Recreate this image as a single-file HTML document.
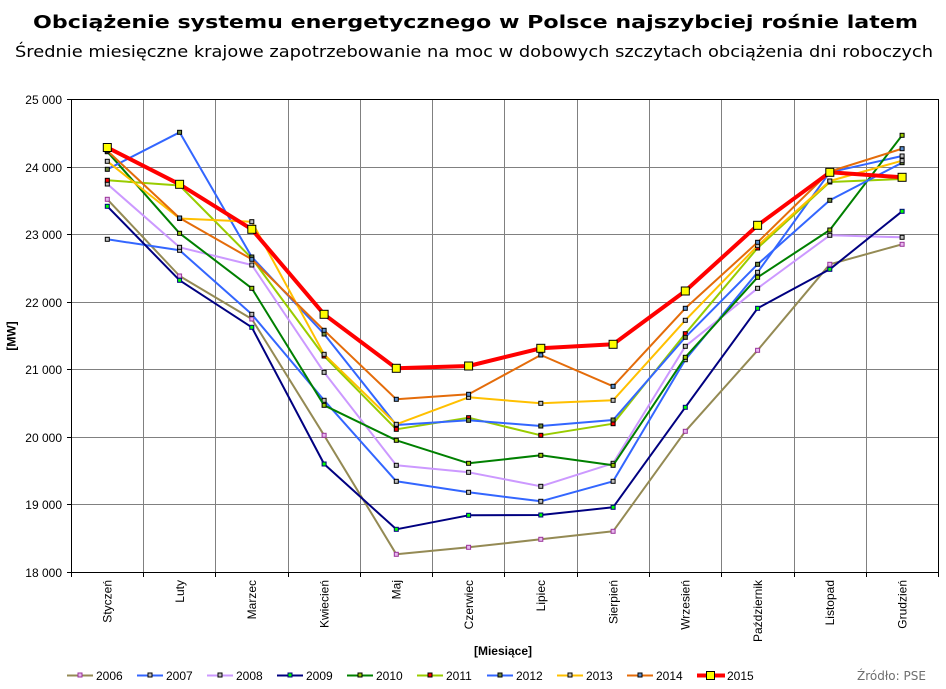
<!DOCTYPE html>
<html>
<head>
<meta charset="utf-8">
<style>
html,body{margin:0;padding:0;background:#fff;}
svg{display:block;}
</style>
</head>
<body>
<svg width="946" height="689" viewBox="0 0 946 689" xmlns="http://www.w3.org/2000/svg">
<defs>
<marker id="m06" markerWidth="7" markerHeight="7" refX="3.5" refY="3.5" markerUnits="userSpaceOnUse"><rect x="1.5" y="1.5" width="4" height="4" fill="#E8B8F0" stroke="#993399" stroke-width="1"/></marker>
<marker id="mgr" markerWidth="7" markerHeight="7" refX="3.5" refY="3.5" markerUnits="userSpaceOnUse"><rect x="1.5" y="1.5" width="4" height="4" fill="#C0C0C0" stroke="#000" stroke-width="1"/></marker>
<marker id="m09" markerWidth="7" markerHeight="7" refX="3.5" refY="3.5" markerUnits="userSpaceOnUse"><rect x="1.5" y="1.5" width="4" height="4" fill="#00FF00" stroke="#000080" stroke-width="1"/></marker>
<marker id="m10" markerWidth="7" markerHeight="7" refX="3.5" refY="3.5" markerUnits="userSpaceOnUse"><rect x="1.5" y="1.5" width="4" height="4" fill="#99CC00" stroke="#000" stroke-width="1"/></marker>
<marker id="m11" markerWidth="7" markerHeight="7" refX="3.5" refY="3.5" markerUnits="userSpaceOnUse"><rect x="1.5" y="1.5" width="4" height="4" fill="#FF0000" stroke="#000" stroke-width="1"/></marker>
<marker id="m12" markerWidth="7" markerHeight="7" refX="3.5" refY="3.5" markerUnits="userSpaceOnUse"><rect x="1.5" y="1.5" width="4" height="4" fill="#6E8B3D" stroke="#000" stroke-width="1"/></marker>
<marker id="m14" markerWidth="7" markerHeight="7" refX="3.5" refY="3.5" markerUnits="userSpaceOnUse"><rect x="1.5" y="1.5" width="4" height="4" fill="#5B8FD0" stroke="#000" stroke-width="1"/></marker>
<marker id="m15" markerWidth="11" markerHeight="11" refX="5.5" refY="5.5" markerUnits="userSpaceOnUse"><rect x="1.5" y="1.5" width="8" height="8" fill="#FFFF00" stroke="#000" stroke-width="1"/></marker>
</defs>

<!-- Titles -->
<text x="33" y="28" font-family="DejaVu Sans, sans-serif" font-weight="bold" font-size="18" textLength="885" lengthAdjust="spacingAndGlyphs" fill="#000">Obciążenie systemu energetycznego w Polsce najszybciej rośnie latem</text>
<text x="15" y="57" font-family="DejaVu Sans, sans-serif" font-size="16" textLength="918" lengthAdjust="spacingAndGlyphs" fill="#000">Średnie miesięczne krajowe zapotrzebowanie na moc w dobowych szczytach obciążenia dni roboczych</text>

<!-- Grid -->
<g stroke="#808080" stroke-width="1" fill="none">
<line x1="71.5" y1="167.5" x2="938.5" y2="167.5"/>
<line x1="71.5" y1="234.5" x2="938.5" y2="234.5"/>
<line x1="71.5" y1="302.5" x2="938.5" y2="302.5"/>
<line x1="71.5" y1="369.5" x2="938.5" y2="369.5"/>
<line x1="71.5" y1="437.5" x2="938.5" y2="437.5"/>
<line x1="71.5" y1="504.5" x2="938.5" y2="504.5"/>
<line x1="143.5" y1="99.5" x2="143.5" y2="572.5"/>
<line x1="215.5" y1="99.5" x2="215.5" y2="572.5"/>
<line x1="288.5" y1="99.5" x2="288.5" y2="572.5"/>
<line x1="360.5" y1="99.5" x2="360.5" y2="572.5"/>
<line x1="432.5" y1="99.5" x2="432.5" y2="572.5"/>
<line x1="504.5" y1="99.5" x2="504.5" y2="572.5"/>
<line x1="577.5" y1="99.5" x2="577.5" y2="572.5"/>
<line x1="649.5" y1="99.5" x2="649.5" y2="572.5"/>
<line x1="721.5" y1="99.5" x2="721.5" y2="572.5"/>
<line x1="794.5" y1="99.5" x2="794.5" y2="572.5"/>
<line x1="866.5" y1="99.5" x2="866.5" y2="572.5"/>
</g>
<rect x="71.5" y="99.5" width="867" height="473" fill="none" stroke="#000" stroke-width="1"/>

<!-- Ticks -->
<g stroke="#000" stroke-width="1">
<line x1="67" y1="99.5" x2="71.5" y2="99.5"/>
<line x1="67" y1="167.5" x2="71.5" y2="167.5"/>
<line x1="67" y1="234.5" x2="71.5" y2="234.5"/>
<line x1="67" y1="302.5" x2="71.5" y2="302.5"/>
<line x1="67" y1="369.5" x2="71.5" y2="369.5"/>
<line x1="67" y1="437.5" x2="71.5" y2="437.5"/>
<line x1="67" y1="504.5" x2="71.5" y2="504.5"/>
<line x1="67" y1="572.5" x2="71.5" y2="572.5"/>
<line x1="71.5" y1="572.5" x2="71.5" y2="577"/>
<line x1="143.5" y1="572.5" x2="143.5" y2="577"/>
<line x1="215.5" y1="572.5" x2="215.5" y2="577"/>
<line x1="288.5" y1="572.5" x2="288.5" y2="577"/>
<line x1="360.5" y1="572.5" x2="360.5" y2="577"/>
<line x1="432.5" y1="572.5" x2="432.5" y2="577"/>
<line x1="504.5" y1="572.5" x2="504.5" y2="577"/>
<line x1="577.5" y1="572.5" x2="577.5" y2="577"/>
<line x1="649.5" y1="572.5" x2="649.5" y2="577"/>
<line x1="721.5" y1="572.5" x2="721.5" y2="577"/>
<line x1="794.5" y1="572.5" x2="794.5" y2="577"/>
<line x1="866.5" y1="572.5" x2="866.5" y2="577"/>
<line x1="938.5" y1="572.5" x2="938.5" y2="577"/>
</g>

<!-- Y labels -->
<g font-family="Liberation Sans, Arial, sans-serif" font-size="12" fill="#000" text-anchor="end">
<text x="62" y="104">25 000</text>
<text x="62" y="172">24 000</text>
<text x="62" y="239">23 000</text>
<text x="62" y="307">22 000</text>
<text x="62" y="374">21 000</text>
<text x="62" y="442">20 000</text>
<text x="62" y="509">19 000</text>
<text x="62" y="577">18 000</text>
</g>

<!-- X labels -->
<g font-family="Liberation Sans, Arial, sans-serif" font-size="12" fill="#000" text-anchor="end">
<text transform="translate(111.5,580) rotate(-90)">Styczeń</text>
<text transform="translate(183.8,580) rotate(-90)">Luty</text>
<text transform="translate(256,580) rotate(-90)">Marzec</text>
<text transform="translate(328.3,580) rotate(-90)">Kwiecień</text>
<text transform="translate(400.5,580) rotate(-90)">Maj</text>
<text transform="translate(472.8,580) rotate(-90)">Czerwiec</text>
<text transform="translate(545,580) rotate(-90)">Lipiec</text>
<text transform="translate(617.3,580) rotate(-90)">Sierpień</text>
<text transform="translate(689.5,580) rotate(-90)">Wrzesień</text>
<text transform="translate(761.8,580) rotate(-90)">Październik</text>
<text transform="translate(834,580) rotate(-90)">Listopad</text>
<text transform="translate(906.3,580) rotate(-90)">Grudzień</text>
</g>

<text x="503" y="655" font-family="Liberation Sans, Arial, sans-serif" font-size="12" font-weight="bold" text-anchor="middle" fill="#000">[Miesiące]</text>
<text transform="translate(15.5,336) rotate(-90)" font-family="Liberation Sans, Arial, sans-serif" font-size="12" font-weight="bold" text-anchor="middle" fill="#000">[MW]</text>

<!-- Series -->
<g fill="none" stroke-linejoin="round">
<polyline stroke="#948A54" stroke-width="2" marker-start="url(#m06)" marker-mid="url(#m06)" marker-end="url(#m06)" points="107.3,199.3 179.6,276 251.8,319 324.1,435.3 396.3,554.3 468.6,547.3 540.8,539.3 613.1,531.3 685.3,431.3 757.6,350.3 829.8,264.3 902.1,244.3"/>
<polyline stroke="#3366FF" stroke-width="2" marker-start="url(#mgr)" marker-mid="url(#mgr)" marker-end="url(#mgr)" points="107.3,239.3 179.6,250.3 251.8,314.3 324.1,400.3 396.3,481.3 468.6,492.3 540.8,501.3 613.1,481.3 685.3,359.7 757.6,272.3 829.8,172.3 902.1,156"/>
<polyline stroke="#CC99FF" stroke-width="2" marker-start="url(#mgr)" marker-mid="url(#mgr)" marker-end="url(#mgr)" points="107.3,184 179.6,247.3 251.8,265 324.1,372.3 396.3,465.3 468.6,472.3 540.8,486.3 613.1,463.3 685.3,346.3 757.6,288.3 829.8,235.3 902.1,237.3"/>
<polyline stroke="#000080" stroke-width="2" marker-start="url(#m09)" marker-mid="url(#m09)" marker-end="url(#m09)" points="107.3,206.3 179.6,280.3 251.8,327.3 324.1,464 396.3,529.3 468.6,515.3 540.8,515 613.1,507.3 685.3,407.3 757.6,308.3 829.8,269.3 902.1,211.3"/>
<polyline stroke="#008000" stroke-width="2" marker-start="url(#m10)" marker-mid="url(#m10)" marker-end="url(#m10)" points="107.3,151.7 179.6,233.3 251.8,288.3 324.1,405.3 396.3,440.3 468.6,463.3 540.8,455.3 613.1,465.3 685.3,357.3 757.6,277.3 829.8,230 902.1,135.3"/>
<polyline stroke="#99CC00" stroke-width="2" marker-start="url(#m11)" marker-mid="url(#m11)" marker-end="url(#m11)" points="107.3,180.3 179.6,185.5 251.8,258.3 324.1,356 396.3,429.3 468.6,417.7 540.8,435.3 613.1,423.7 685.3,333.7 757.6,248 829.8,182 902.1,179"/>
<polyline stroke="#3366FF" stroke-width="2" marker-start="url(#m12)" marker-mid="url(#m12)" marker-end="url(#m12)" points="107.3,169.3 179.6,132.3 251.8,257 324.1,334 396.3,425 468.6,420.3 540.8,426 613.1,420 685.3,337.3 757.6,264.3 829.8,200.3 902.1,162.7"/>
<polyline stroke="#FFC000" stroke-width="2" marker-start="url(#mgr)" marker-mid="url(#mgr)" marker-end="url(#mgr)" points="107.3,161.3 179.6,218.5 251.8,221.7 324.1,354.3 396.3,424.3 468.6,397.3 540.8,403.3 613.1,400.3 685.3,320.3 757.6,245.7 829.8,181 902.1,160.7"/>
<polyline stroke="#E46C0A" stroke-width="2" marker-start="url(#m14)" marker-mid="url(#m14)" marker-end="url(#m14)" points="107.3,150.7 179.6,218 251.8,259.3 324.1,330.3 396.3,399.3 468.6,394.3 540.8,355 613.1,386.3 685.3,308.3 757.6,242.3 829.8,171.5 902.1,148.7"/>
<polyline stroke="#FF0000" stroke-width="4" marker-start="url(#m15)" marker-mid="url(#m15)" marker-end="url(#m15)" points="107.3,147.5 179.6,184.3 251.8,229.3 324.1,314.3 396.3,368.3 468.6,366 540.8,348.3 613.1,344.3 685.3,291 757.6,225.3 829.8,172.3 902.1,177.3"/>
</g>

<!-- Legend -->
<g font-family="Liberation Sans, Arial, sans-serif" font-size="12" fill="#000">
<line x1="67" y1="675.5" x2="93" y2="675.5" stroke="#948A54" stroke-width="2"/><rect x="78" y="673" width="4" height="4" fill="#E8B8F0" stroke="#993399"/><text x="96" y="680">2006</text>
<line x1="137" y1="675.5" x2="163" y2="675.5" stroke="#3366FF" stroke-width="2"/><rect x="148" y="673" width="4" height="4" fill="#C0C0C0" stroke="#000"/><text x="166" y="680">2007</text>
<line x1="207" y1="675.5" x2="233" y2="675.5" stroke="#CC99FF" stroke-width="2"/><rect x="218" y="673" width="4" height="4" fill="#C0C0C0" stroke="#000"/><text x="236" y="680">2008</text>
<line x1="277" y1="675.5" x2="303" y2="675.5" stroke="#000080" stroke-width="2"/><rect x="288" y="673" width="4" height="4" fill="#00FF00" stroke="#000080"/><text x="306" y="680">2009</text>
<line x1="347" y1="675.5" x2="373" y2="675.5" stroke="#008000" stroke-width="2"/><rect x="358" y="673" width="4" height="4" fill="#99CC00" stroke="#000"/><text x="376" y="680">2010</text>
<line x1="417" y1="675.5" x2="443" y2="675.5" stroke="#99CC00" stroke-width="2"/><rect x="428" y="673" width="4" height="4" fill="#FF0000" stroke="#000"/><text x="446" y="680">2011</text>
<line x1="487" y1="675.5" x2="513" y2="675.5" stroke="#3366FF" stroke-width="2"/><rect x="498" y="673" width="4" height="4" fill="#6E8B3D" stroke="#000"/><text x="516" y="680">2012</text>
<line x1="557" y1="675.5" x2="583" y2="675.5" stroke="#FFC000" stroke-width="2"/><rect x="568" y="673" width="4" height="4" fill="#C0C0C0" stroke="#000"/><text x="586" y="680">2013</text>
<line x1="627" y1="675.5" x2="653" y2="675.5" stroke="#E46C0A" stroke-width="2"/><rect x="638" y="673" width="4" height="4" fill="#5B8FD0" stroke="#000"/><text x="656" y="680">2014</text>
<line x1="697" y1="675.5" x2="725" y2="675.5" stroke="#FF0000" stroke-width="4"/><rect x="706.5" y="671.5" width="8" height="8" fill="#FFFF00" stroke="#000"/><text x="727" y="680">2015</text>
</g>
<text x="857" y="680" font-family="DejaVu Sans, sans-serif" font-size="12" fill="#6E6E6E">Źródło: PSE</text>
</svg>
</body>
</html>
